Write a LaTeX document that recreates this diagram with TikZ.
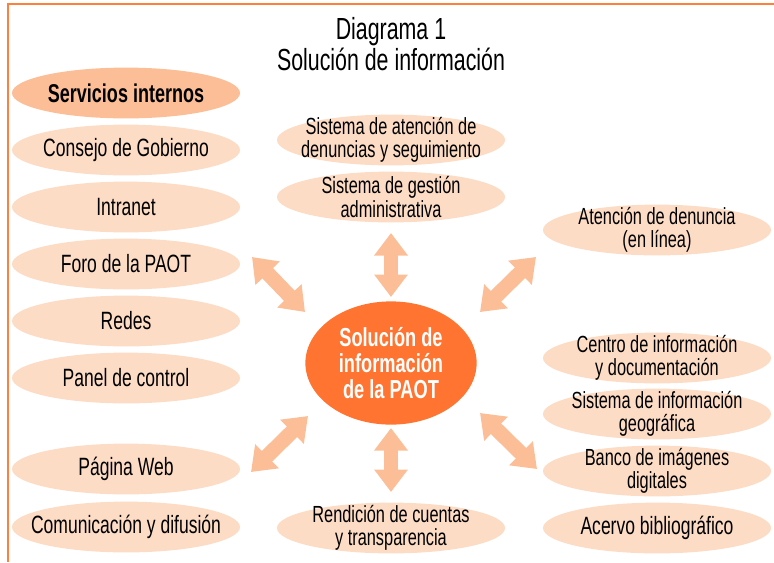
\documentclass[tikz,border=0pt]{standalone}
\usepackage{fontspec}
\setmainfont{Liberation Sans}[FakeStretch=0.7]
\usetikzlibrary{shapes.geometric}
\usetikzlibrary{arrows.meta}
\definecolor{paotborde}{HTML}{FF7F3F}
\definecolor{paotclaro}{HTML}{FDDCC5}
\definecolor{paotmedio}{HTML}{FCBE96}
\definecolor{paotfuerte}{HTML}{FF7430}
\tikzset{
 caja/.style={ellipse, fill=paotclaro, minimum width=5.7cm, minimum height=1.27cm,
  inner xsep=-1.6cm, inner ysep=-0.5cm, align=center, font=\fontsize{17.8}{17.8}\selectfont},
 cajados/.style={caja, font=\fontsize{16.6}{16.6}\selectfont},
 cajafuerte/.style={caja, fill=paotmedio, font=\fontsize{18.3}{18.3}\selectfont\bfseries},
 flecha/.style={draw=paotmedio, line width=10.5pt,
  {Triangle[length=16pt,width=23pt]}-{Triangle[length=16pt,width=23pt]}}
}
\begin{document}
\begin{tikzpicture}[x=0.025cm,y=-0.025cm]
\useasboundingbox (0,0) rectangle (774,562);
% marco
\draw[paotborde, line width=1.1pt] (8,562) -- (8,4) -- (774,4);
% titulo
\node[align=center, font=\fontsize{21.7}{21.7}\selectfont] (titulo) at (391,44) {Diagrama 1\\Solución de información};
% servicios internos
\node[cajafuerte] (serv) at (126,93) {Servicios internos};
\node[caja] (consejo) at (126,150) {Consejo de Gobierno};
\node[caja] (intranet) at (126,207) {Intranet};
\node[caja] (foro) at (126,264) {Foro de la PAOT};
\node[caja] (redes) at (126,321) {Redes};
\node[caja] (panel) at (126,378) {Panel de control};
\node[caja] (web) at (126,469) {Página Web};
\node[caja] (comunic) at (126,527) {Comunicación y difusión};
% centro
\node[cajados] (denuncias) at (391,140) {Sistema de atención de\\denuncias y seguimiento};
\node[cajados] (gestion) at (391,197) {Sistema de gestión\\administrativa};
\node[cajados] (rendicion) at (391,528) {Rendición de cuentas\\y transparencia};
\node[ellipse, fill=paotfuerte, minimum width=4.28cm, minimum height=3.08cm,
 inner xsep=-1cm, inner ysep=-1cm, align=center, text=white,
 font=\fontsize{18.5}{18.5}\selectfont\bfseries] (sol) at (391,363)
 {Solución de\\información\\de la PAOT};
% derecha
\node[cajados] (linea) at (657,230) {Atención de denuncia\\(en línea)};
\node[cajados] (cido) at (657,358) {Centro de información\\y documentación};
\node[cajados] (sig) at (657,414) {Sistema de información\\geográfica};
\node[cajados] (banco) at (657,471) {Banco de imágenes\\digitales};
\node[caja] (acervo) at (657,528) {Acervo bibliográfico};
% flechas
\coordinate (n1) at (391,233);
\coordinate (n2) at (391,297);
\coordinate (no1) at (252,257);
\coordinate (no2) at (305,312);
\coordinate (ne1) at (536,257);
\coordinate (ne2) at (480,312);
\coordinate (so1) at (308,416);
\coordinate (so2) at (251,472);
\coordinate (s1) at (391,428);
\coordinate (s2) at (391,492);
\coordinate (se1) at (480,413);
\coordinate (se2) at (537,469);
\draw[flecha] (n1) -- (n2);
\draw[flecha] (no1) -- (no2);
\draw[flecha] (ne1) -- (ne2);
\draw[flecha] (so1) -- (so2);
\draw[flecha] (s1) -- (s2);
\draw[flecha] (se1) -- (se2);
\end{tikzpicture}
\end{document}
